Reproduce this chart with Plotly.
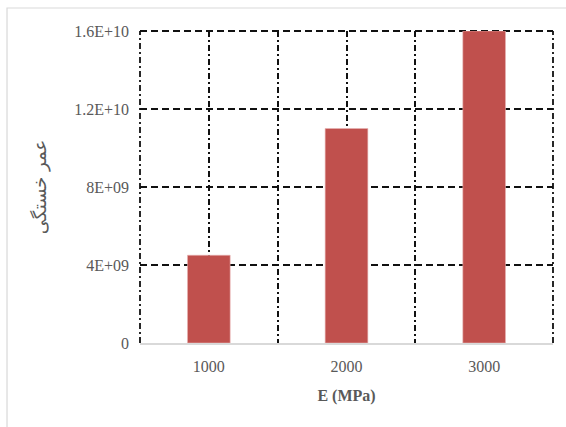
import plotly.graph_objects as go

# Fatigue life versus elastic modulus
categories = ["1000", "2000", "3000"]
fatigue_life = [4.5e9, 1.1e10, 1.6e10]

y_tickvals = [0, 4e9, 8e9, 1.2e10, 1.6e10]
y_ticktext = ["0", "4E+09", "8E+09", "1.2E+10", "1.6E+10"]

bar_color = "#C0504D"
tick_color = "#595959"
grid_color = "#111111"
grid_width = 1.8
serif = "Liberation Serif, Times New Roman, serif"

dashdot = "6px,3px,2px,3px"
dashed = "7px,4px"

fig = go.Figure()

fig.add_trace(go.Bar(
    x=categories,
    y=fatigue_life,
    marker=dict(color=bar_color, line=dict(color="#E8B4B3", width=0.6)),
    hoverinfo="skip",
    showlegend=False,
))

# invisible companion trace so the overlay axis carries category-centre gridlines
fig.add_trace(go.Scatter(
    x=categories,
    y=fatigue_life,
    xaxis="x2",
    mode="markers",
    marker=dict(opacity=0),
    hoverinfo="skip",
    showlegend=False,
))

# plot-area frame: gridlines that fall on the edges are drawn as shapes
frame = [
    dict(type="line", xref="paper", yref="paper", x0=0, x1=1, y0=1, y1=1,
         line=dict(color=grid_color, width=grid_width, dash=dashed), layer="below"),
    dict(type="line", xref="paper", yref="paper", x0=0, x1=0, y0=0, y1=1,
         line=dict(color=grid_color, width=grid_width, dash=dashdot), layer="below"),
    dict(type="line", xref="paper", yref="paper", x0=1, x1=1, y0=0, y1=1,
         line=dict(color=grid_color, width=grid_width, dash=dashdot), layer="below"),
    # outer chart border
    dict(type="rect", xref="paper", yref="paper",
         x0=-0.322, x1=1.05, y0=-0.3, y1=1.0737,
         line=dict(color="#D9D9D9", width=1.2), fillcolor="rgba(0,0,0,0)", layer="below"),
]

fig.update_layout(
    width=566,
    height=427,
    margin=dict(l=140, r=13, t=31, b=84),
    paper_bgcolor="white",
    plot_bgcolor="white",
    bargap=0.69,
    font=dict(family=serif, size=16, color=tick_color),
    xaxis=dict(
        type="category",
        categoryorder="array",
        categoryarray=categories,
        range=[-0.5, 2.5],
        tickson="boundaries",
        ticks="",
        showgrid=True,
        gridcolor=grid_color,
        gridwidth=grid_width,
        griddash=dashdot,
        showline=True,
        linecolor="#D9D9D9",
        linewidth=1.5,
        tickfont=dict(family=serif, size=16, color=tick_color),
        ticklabelstandoff=8,
        title=dict(text="<b>E (MPa)</b>", font=dict(family=serif, size=16, color=tick_color), standoff=16),
        zeroline=False,
    ),
    xaxis2=dict(
        type="category",
        categoryorder="array",
        categoryarray=categories,
        range=[-0.5, 2.5],
        overlaying="x",
        showticklabels=False,
        ticks="",
        showgrid=True,
        gridcolor=grid_color,
        gridwidth=grid_width,
        griddash=dashdot,
        showline=False,
        zeroline=False,
    ),
    yaxis=dict(
        range=[0, 1.6e10],
        tickmode="array",
        tickvals=y_tickvals,
        ticktext=y_ticktext,
        showgrid=True,
        gridcolor=grid_color,
        gridwidth=grid_width,
        griddash=dashed,
        zeroline=False,
        showline=False,
        ticks="",
        ticklabelstandoff=10,
        tickfont=dict(family=serif, size=16, color=tick_color),
        title=dict(text="عمر خستگی", font=dict(family="DejaVu Sans", size=18, color=tick_color), standoff=22),
    ),
    shapes=frame,
)

fig.write_html("out.html")
